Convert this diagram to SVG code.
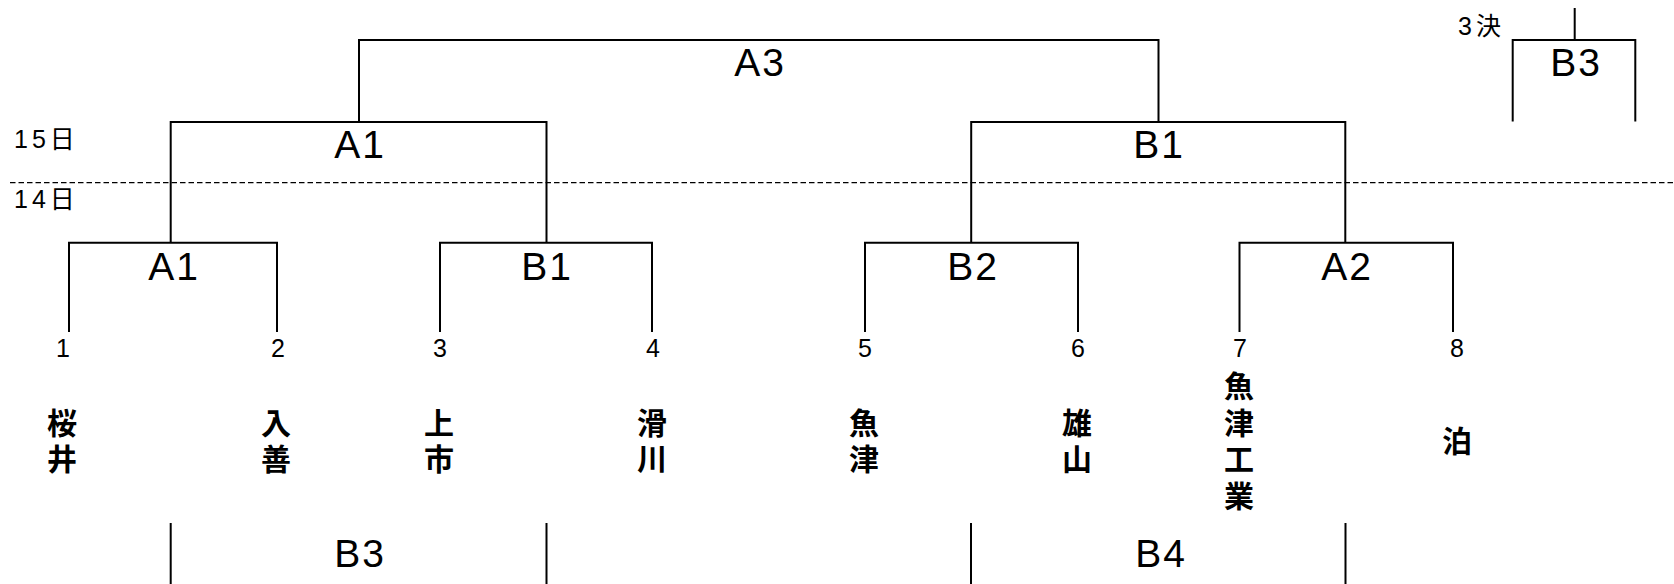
<svg xmlns="http://www.w3.org/2000/svg" width="1674" height="584" viewBox="0 0 1674 584">
<style>
.ln{fill:none;stroke:#000;stroke-width:2}
.dash{fill:none;stroke:#000;stroke-width:1.3;stroke-dasharray:5.5 3}
.lbl{font-family:"Liberation Sans","Noto Sans CJK JP",sans-serif;font-size:39px;letter-spacing:2px;text-anchor:middle;fill:#000}
.day{font-family:"Liberation Sans","Noto Sans CJK JP",sans-serif;font-size:25px;letter-spacing:4px;fill:#000}
.num{font-family:"Liberation Sans Narrow","Liberation Sans",sans-serif;font-size:25px;text-anchor:middle;fill:#000}
.nm{font-family:"Noto Sans CJK JP",sans-serif;font-size:30px;font-weight:bold;text-anchor:middle;writing-mode:vertical-rl;letter-spacing:6.5px;fill:#000}
</style>
<rect width="1674" height="584" fill="#fff"/>
<g id="connectors">
<path class="ln" d="M359,122V40H1158.5V122"/>
<path class="ln" d="M170.7,242.7V122H546.5V242.7"/>
<path class="ln" d="M971.2,242.7V122H1345.3V242.7"/>
<path class="ln" d="M69,332V242.7H277V332"/>
<path class="ln" d="M440,332V242.7H652V332"/>
<path class="ln" d="M865,332V242.7H1078V332"/>
<path class="ln" d="M1239.5,332V242.7H1453V332"/>
<path class="ln" d="M1574.7,8V40M1512.7,121.5V40H1635.3V121.5"/>
<path class="ln" d="M170.7,523V584M546.5,523V584M971,523V584M1345.5,523V584"/>
<path class="dash" d="M10,182.7H1674"/>
</g>
<g id="days">
<text class="day" x="14" y="148">15日</text>
<text class="day" x="14" y="208">14日</text>
</g>
<g id="final"><text class="lbl" x="760" y="76">A3</text></g>
<g id="third"><text class="day" x="1458" y="35">3決</text><text class="lbl" x="1576" y="76">B3</text></g>
<g id="semi1"><text class="lbl" x="360" y="158">A1</text></g>
<g id="semi2"><text class="lbl" x="1159" y="158">B1</text></g>
<g id="q1"><text class="lbl" x="174" y="280">A1</text></g>
<g id="q2"><text class="lbl" x="547" y="280">B1</text></g>
<g id="q3"><text class="lbl" x="973" y="280">B2</text></g>
<g id="q4"><text class="lbl" x="1347" y="280">A2</text></g>
<g id="cons1"><text class="lbl" x="360" y="567">B3</text></g>
<g id="cons2"><text class="lbl" x="1161" y="567">B4</text></g>
<g id="seeds">
<text class="num" x="63" y="357">1</text>
<text class="num" x="278" y="357">2</text>
<text class="num" x="440" y="357">3</text>
<text class="num" x="653" y="357">4</text>
<text class="num" x="865" y="357">5</text>
<text class="num" x="1078" y="357">6</text>
<text class="num" x="1240" y="357">7</text>
<text class="num" x="1457" y="357">8</text>
</g>
<g id="team1"><text class="nm" x="62" y="444">桜井</text></g>
<g id="team2"><text class="nm" x="276" y="444">入善</text></g>
<g id="team3"><text class="nm" x="439" y="444">上市</text></g>
<g id="team4"><text class="nm" x="652" y="444">滑川</text></g>
<g id="team5"><text class="nm" x="864" y="444">魚津</text></g>
<g id="team6"><text class="nm" x="1077" y="444">雄山</text></g>
<g id="team7"><text class="nm" x="1239" y="444">魚津工業</text></g>
<g id="team8"><text class="nm" x="1457" y="444">泊</text></g>
</svg>
